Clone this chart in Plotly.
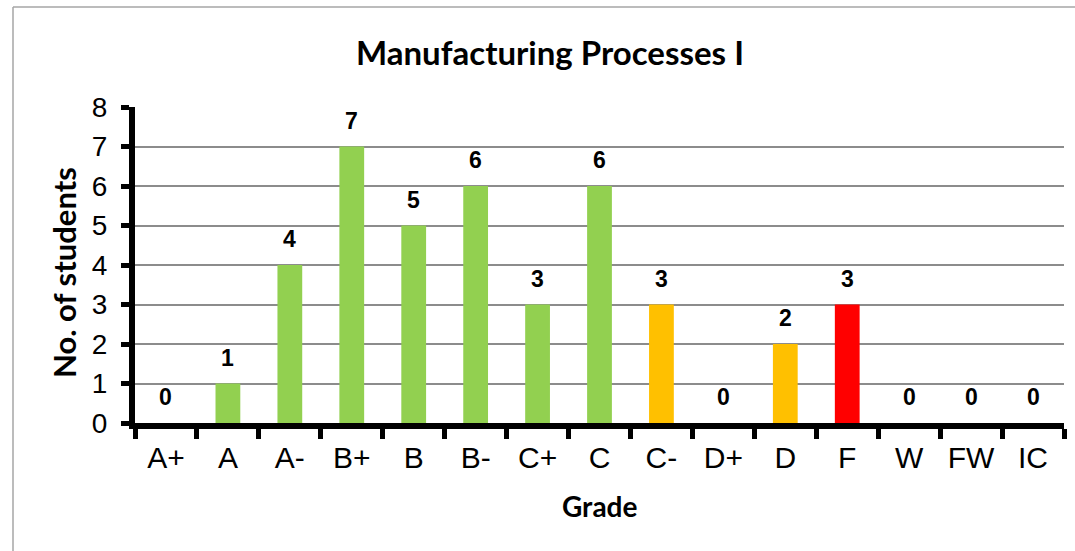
import plotly.graph_objects as go

grades = ["A+", "A", "A-", "B+", "B", "B-", "C+", "C", "C-", "D+", "D", "F", "W", "FW", "IC"]
students = [0, 1, 4, 7, 5, 6, 3, 6, 3, 0, 2, 3, 0, 0, 0]
colors = ["#92D050"] * 8 + ["#FFC000"] * 3 + ["#FF0000"] + ["#92D050"] * 3

W, H = 1075, 551
L, R, T, B = 135, 11, 107, 128
PW, PH = W - L - R, H - T - B


def px(x):
    return (x - L) / PW


def py(y):
    return (H - B - y) / PH


fig = go.Figure()
fig.add_trace(go.Bar(x=grades, y=students, marker=dict(color=colors, line=dict(width=0)),
                     width=0.4, hoverinfo="x+y"))

for g, v in zip(grades, students):
    fig.add_annotation(x=g, y=v, xref="x", yref="y", text="<b>%d</b>" % v, showarrow=False,
                       yshift=26, font=dict(family="Liberation Sans, Arial", size=23, color="black"))

fig.add_annotation(x=px(550), y=py(52), xref="paper", yref="paper", text="<b>Manufacturing Processes I</b>",
                   showarrow=False, font=dict(family="Lato", size=33, color="black"),
                   xanchor="center", yanchor="middle")
fig.update_layout(
    width=W, height=H,
    margin=dict(l=L, r=R, t=T, b=B, autoexpand=False),
    paper_bgcolor="white", plot_bgcolor="white",
    showlegend=False,
    xaxis=dict(
        type="category", range=[-0.5, 14.5], tickson="boundaries",
        showline=True, linecolor="black", linewidth=6,
        ticks="outside", ticklen=10, tickwidth=5, tickcolor="black",
        ticklabelstandoff=3,
        tickfont=dict(family="Liberation Sans, Arial", size=30, color="black"),
        showgrid=False, zeroline=False, fixedrange=True,
    ),
    yaxis=dict(
        range=[0, 8], dtick=1, tick0=0,
        showline=True, linecolor="black", linewidth=6,
        ticks="outside", ticklen=8, tickwidth=5, tickcolor="black",
        ticklabelstandoff=8,
        tickfont=dict(family="Liberation Sans, Arial", size=28, color="black"),
        showgrid=True, gridcolor="#8c8c8c", gridwidth=1.5, zeroline=False,
    ),
)

# axis titles
fig.add_annotation(x=px(599), y=py(506), xref="paper", yref="paper", text="<b>Grade</b>",
                   showarrow=False, font=dict(family="Lato", size=28, color="black"),
                   xanchor="center", yanchor="middle")
fig.add_annotation(x=px(64), y=py(273), xref="paper", yref="paper", text="<b>No. of students</b>",
                   showarrow=False, textangle=-90, font=dict(family="Lato", size=31, color="black"),
                   xanchor="center", yanchor="middle")

# outer chart border (top and left visible)
fig.add_shape(type="line", xref="paper", yref="paper", x0=px(13), x1=px(1100), y0=py(7), y1=py(7),
              line=dict(color="#a6a6a6", width=1.5))
fig.add_shape(type="line", xref="paper", yref="paper", x0=px(13), x1=px(13), y0=py(600), y1=py(7),
              line=dict(color="#a6a6a6", width=1.5))

fig.write_html("out.html", config={"displayModeBar": False})

with open("out.html", "r", encoding="utf-8") as f:
    html = f.read()
html = html.replace("<head>", "<head><style>html,body{margin:0;padding:0;overflow:hidden;}</style>", 1)
with open("out.html", "w", encoding="utf-8") as f:
    f.write(html)
